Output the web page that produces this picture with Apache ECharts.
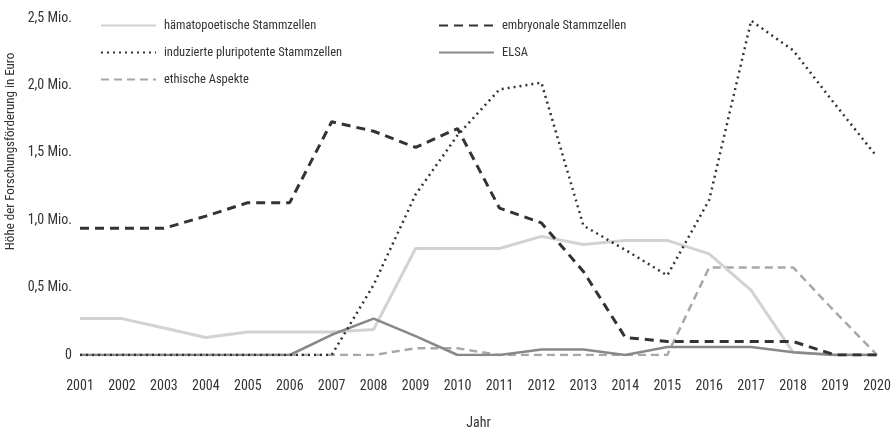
<!DOCTYPE html>
<html><head><meta charset="utf-8">
<script src="https://cdn.jsdelivr.net/npm/echarts@6/dist/echarts.min.js"></script>
<style>html,body{margin:0;padding:0;background:#fff}#c{width:896px;height:430px}</style>
</head><body><div id="c"></div>
<script>
const years = ['2001','2002','2003','2004','2005','2006','2007','2008','2009','2010','2011','2012','2013','2014','2015','2016','2017','2018','2019','2020'];
const haemato = [0.27,0.27,0.20,0.13,0.17,0.17,0.17,0.19,0.79,0.79,0.79,0.88,0.82,0.85,0.85,0.75,0.48,0.02,0,0];
const embryo  = [0.94,0.94,0.94,1.03,1.13,1.13,1.73,1.66,1.54,1.68,1.09,0.98,0.62,0.13,0.10,0.10,0.10,0.10,0,0];
const ips     = [0,0,0,0,0,0,0,0.52,1.19,1.63,1.97,2.02,0.96,0.78,0.59,1.15,2.48,2.26,1.86,1.47];
const elsa    = [0,0,0,0,0,0,0.15,0.27,0.14,0,0,0.04,0.04,0,0.06,0.06,0.06,0.02,0,0];
const ethik   = [0,0,0,0,0,0,0,0,0.05,0.05,0,0,0,0,0,0.65,0.65,0.65,0.32,0];
const yTicks = {0:'0',0.5:'0,5 Mio.',1:'1,0 Mio.',1.5:'1,5 Mio.',2:'2,0 Mio.',2.5:'2,5 Mio.'};

const FONT = '"Roboto Condensed","Liberation Sans Narrow",sans-serif';
const txt = {color:'#333', fontFamily: FONT, fontSize: 12};
const lbl = {color:'#333', fontFamily: FONT, fontSize: 14};
const chart = echarts.init(document.getElementById('c'), null, {renderer:'canvas'});
const mk = (name, data, color, width, type, z) => ({
  name, type:'line', data, symbol:'none', z,
  lineStyle:{color, width, type}, itemStyle:{color}
});
const legendBase = {orient:'vertical', top:14, itemWidth:55, itemHeight:12, itemGap:14,
  textStyle:{...lbl, fontSize:12.5, padding:[0,0,0,3]}, itemStyle:{opacity:0}};
chart.setOption({
  animation:false,
  textStyle: txt,
  grid:{left:80, right:19, top:18, bottom:75, containLabel:false, outerBoundsMode:'none'},
  legend:[
    {...legendBase, left:95,
     data:['hämatopoetische Stammzellen','induzierte pluripotente Stammzellen','ethische Aspekte']},
    {...legendBase, left:433,
     data:['embryonale Stammzellen','ELSA']}
  ],
  xAxis:{type:'category', data:years, boundaryGap:false,
    axisLine:{show:false}, axisTick:{show:false},
    axisLabel:{...lbl, margin:24, interval:0},
    name:'Jahr', nameLocation:'middle', nameGap:61, nameTextStyle:{...lbl}},
  yAxis:{type:'value', min:0, max:2.5, interval:0.5,
    splitLine:{show:false}, axisLine:{show:false}, axisTick:{show:false},
    axisLabel:{...lbl, margin:8, formatter:v=>yTicks[v]!==undefined?yTicks[v]:''},
    name:'Höhe der Forschungsförderung in Euro', nameLocation:'middle', nameGap:58,
    nameTextStyle:{...lbl, fontSize:13, padding:[0,0,0,70]}},
  series:[
    mk('hämatopoetische Stammzellen', haemato, '#d2d2d2', 3, 'solid', 2),
    mk('embryonale Stammzellen', embryo, '#333333', 3, [9,6], 5),
    mk('induzierte pluripotente Stammzellen', ips, '#333333', 2.5, [2,4], 4),
    mk('ELSA', elsa, '#888888', 2.5, 'solid', 3),
    mk('ethische Aspekte', ethik, '#a8a8a8', 2.5, [8,5], 1)
  ]
});
</script></body></html>
